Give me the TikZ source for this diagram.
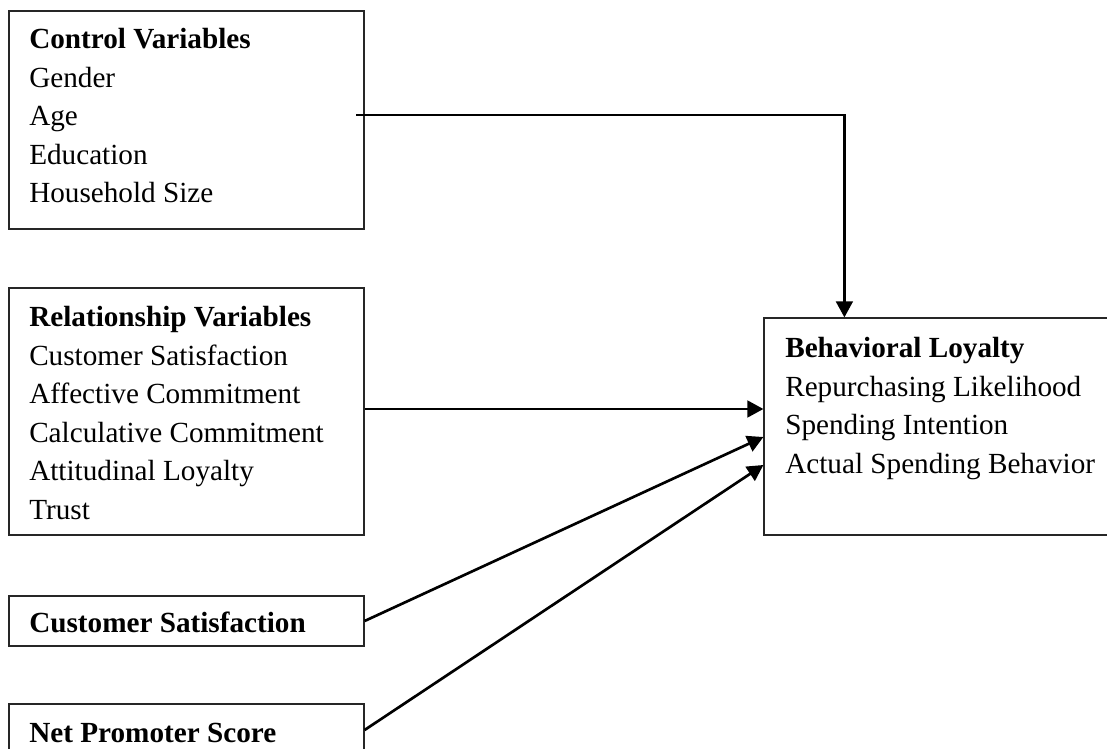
\documentclass[tikz,border=0pt]{standalone}
\usepackage{fontspec}
\setmainfont{Liberation Serif}
\usetikzlibrary{arrows.meta,fit,calc}
\tikzset{
  box/.style={draw=black!85, line width=0.9pt, inner sep=0pt, fill=none},
  txt/.style={anchor=north west, inner sep=0pt, align=left,
    font=\fontsize{21.9pt}{28.9pt}\selectfont},
  conn/.style={line width=2pt, -{Triangle[length=12pt,width=12.5pt]}}
}
\begin{document}
\begin{tikzpicture}[x=0.75pt,y=-0.75pt]
\useasboundingbox (0,0) rectangle (1107,749);
\clip (0,0) rectangle (1107,749);
% boxes
\node[box, fit={(9,11) (364,229)}] (cv) {};
\node[box, fit={(9,288) (364,535)}] (rv) {};
\node[box, fit={(9,596) (364,646)}] (cs) {};
\node[box, fit={(9,704) (364,756)}] (nps) {};
\node[box, fit={(764,318) (1115,535)}] (bl) {};
% texts
\node[txt] (cvt) at (29,28) {\textbf{Control Variables}\\Gender\\Age\\Education\\Household Size};
\node[txt] (rvt) at (29,306) {\textbf{Relationship Variables}\\Customer Satisfaction\\Affective Commitment\\Calculative Commitment\\Attitudinal Loyalty\\Trust};
\node[txt] (cst) at (29,612) {\textbf{Customer Satisfaction}};
\node[txt] (npst) at (29,723) {\textbf{Net Promoter Score}};
\node[txt] (blt) at (785,337) {\textbf{Behavioral Loyalty}\\Repurchasing Likelihood\\Spending Intention\\Actual Spending Behavior};
% connector coordinates
\coordinate (cvout) at (356,115);
\coordinate (blin1) at ($(bl.north west)+(81,0)$);
\coordinate (rvout) at (rv.east |- 0,409);
\coordinate (blin2) at (bl.west |- 0,409);
\coordinate (blin3) at (bl.west |- 0,437);
\coordinate (blin4) at (bl.west |- 0,465);
% connectors
\draw[conn] (cvout) -| (blin1);
\draw[conn] (rvout) -- (blin2);
\draw[conn] (cs.east) -- (blin3);
\draw[conn] (nps.east) -- (blin4);
\end{tikzpicture}
\end{document}
